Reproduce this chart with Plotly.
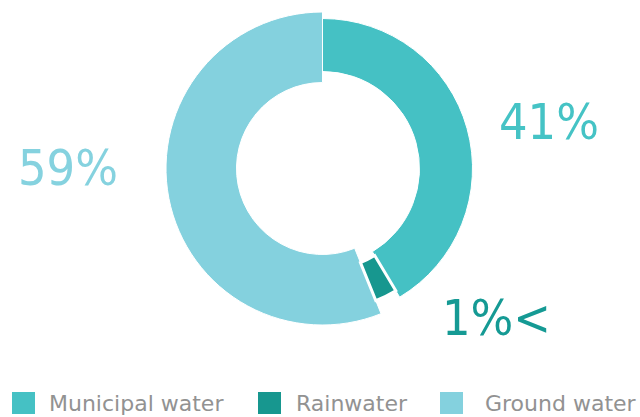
import plotly.graph_objects as go

# Data
categories = ["Municipal water", "Rainwater", "Ground water"]
shares = [41.4, 2.5, 56.1]          # slice sizes as drawn (percent of circle)
labels = ["41%", "1%<", "59%"]      # printed labels
colors = ["#45c1c4", "#17978f", "#84d1de"]
label_colors = ["#45c3c5", "#159a94", "#85d2df"]

# ring geometry per slice (inner radius, outer radius) in radial units (1 unit = 1px)
inner = [97, 101.5, 86]
outer = [150, 142.5, 156.5]
line_w = [1, 3, 1]

# angular placement from cumulative shares
starts = []
acc = 0.0
for s in shares:
    starts.append(acc)
    acc += s
total = acc
theta_c = [(st + s / 2) / total * 360 for st, s in zip(starts, shares)]
widths = [s / total * 360 for s in shares]

fig = go.Figure()
draw_order = [0, 2, 1]
for i in draw_order:
    fig.add_trace(go.Barpolar(
        r=[outer[i] - inner[i]],
        base=[inner[i]],
        theta=[theta_c[i]],
        width=[widths[i]],
        marker=dict(color=colors[i], line=dict(color="white", width=line_w[i])),
        name=categories[i],
        showlegend=False,
        hoverinfo="name",
    ))

W, H = 640, 417
cx, cy = 322.5, 168.5
R = 160
fig.update_layout(
    width=W, height=H,
    margin=dict(l=0, r=0, t=0, b=0),
    paper_bgcolor="white",
    plot_bgcolor="white",
    polar=dict(
        domain=dict(x=[(cx - R) / W, (cx + R) / W],
                    y=[(H - cy - R) / H, (H - cy + R) / H]),
        bgcolor="white",
        radialaxis=dict(visible=False, range=[0, R], showgrid=False),
        angularaxis=dict(visible=False, direction="clockwise", rotation=90,
                         showgrid=False),
        bargap=0,
    ),
)

# percent labels
label_pos = [(549, 122), (496, 318), (68, 168)]
label_font = "Liberation Sans Narrow, Arial Narrow, DejaVu Sans Condensed, Roboto Condensed, Lato, sans-serif"
for i in range(3):
    x, y = label_pos[i]
    fig.add_annotation(
        x=x / W, y=1 - y / H, xref="paper", yref="paper",
        text=labels[i], showarrow=False,
        font=dict(family=label_font, size=50, color=label_colors[i]),
        xanchor="center", yanchor="middle",
    )

# legend drawn as swatches + text
sw_x = [12, 258, 440]
txt_x = [47, 294, 483]
ly0, ly1 = 392, 414
for i in range(3):
    fig.add_shape(type="rect", xref="paper", yref="paper",
                  x0=sw_x[i] / W, x1=(sw_x[i] + 23) / W,
                  y0=1 - ly1 / H, y1=1 - ly0 / H,
                  fillcolor=colors[i], line=dict(width=0))
    fig.add_annotation(
        x=txt_x[i] / W, y=1 - 403 / H, xref="paper", yref="paper",
        text=categories[i], showarrow=False,
        font=dict(family="DejaVu Sans, sans-serif", size=22, color="#929292"),
        xanchor="left", yanchor="middle",
    )

fig.write_html(
    "out.html",
    config={"displayModeBar": False},
    post_script="document.body.style.margin='0';document.body.style.padding='0';",
)
